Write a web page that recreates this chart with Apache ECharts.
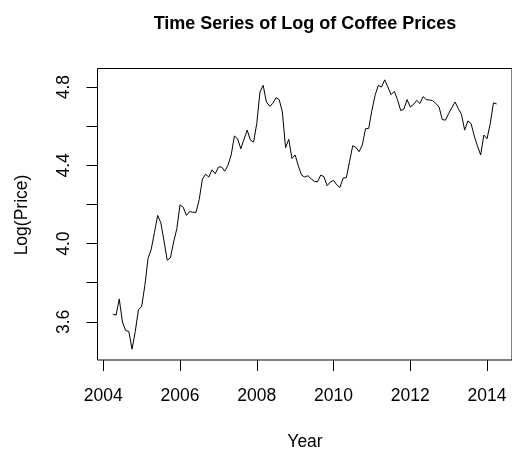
<!DOCTYPE html>
<html>
<head>
<meta charset="utf-8">
<script src="https://cdn.jsdelivr.net/npm/echarts@6/dist/echarts.min.js"></script>
<style>
  html, body { margin: 0; padding: 0; background: #fff; }
  #chart { width: 512px; height: 450px; }
</style>
</head>
<body>
<div id="chart"></div>
<script>
// Monthly log coffee prices, April 2004 to April 2014
const startYear = 2004.25;
const logPrice = [
  3.640, 3.634, 3.717, 3.599, 3.556, 3.551, 3.460, 3.550, 3.663, 3.677,
  3.785, 3.924, 3.971, 4.056, 4.144, 4.107, 4.013, 3.915, 3.927, 4.008,
  4.076, 4.198, 4.186, 4.144, 4.164, 4.160, 4.160, 4.225, 4.330, 4.355,
  4.340, 4.377, 4.357, 4.391, 4.392, 4.370, 4.401, 4.453, 4.550, 4.536,
  4.485, 4.533, 4.580, 4.529, 4.519, 4.614, 4.775, 4.809, 4.724, 4.702,
  4.716, 4.746, 4.736, 4.673, 4.490, 4.533, 4.435, 4.453, 4.397, 4.350,
  4.340, 4.347, 4.331, 4.318, 4.316, 4.350, 4.342, 4.296, 4.315, 4.323,
  4.301, 4.287, 4.335, 4.337, 4.419, 4.500, 4.492, 4.470, 4.504, 4.587,
  4.589, 4.682, 4.758, 4.809, 4.800, 4.837, 4.800, 4.761, 4.778, 4.736,
  4.680, 4.688, 4.736, 4.698, 4.711, 4.732, 4.716, 4.751, 4.736, 4.734,
  4.731, 4.716, 4.698, 4.634, 4.631, 4.665, 4.695, 4.724, 4.690, 4.661,
  4.580, 4.627, 4.614, 4.550, 4.499, 4.453, 4.555, 4.536, 4.614, 4.719,
  4.714
];
const yearTicks = [2004, 2006, 2008, 2010, 2012, 2014];
const priceTicks = [3.6, 3.8, 4.0, 4.2, 4.4, 4.6, 4.8];
const priceLabels = [3.6, 4.0, 4.4, 4.8];

const seriesData = logPrice.map((v, i) => [startYear + i / 12, v]);

const FONT = '"Liberation Sans", Arial, Helvetica, sans-serif';
const chart = echarts.init(document.getElementById('chart'), null, { renderer: 'canvas' });

chart.setOption({
  animation: false,
  backgroundColor: '#ffffff',
  grid: {
    left: 97.5, top: 68.5, width: 415, height: 291.5,
    show: true, borderColor: '#000', borderWidth: 1,
    containLabel: false
  },
  xAxis: {
    type: 'value',
    min: 2003.85, max: 2014.65,
    splitLine: { show: false },
    axisLine: { show: false },
    axisTick: { show: true, customValues: yearTicks, length: 11, lineStyle: { color: '#000', width: 1 } },
    axisLabel: {
      customValues: yearTicks, margin: 27,
      color: '#000', fontSize: 17.5, fontFamily: FONT,
      formatter: v => String(Math.round(v))
    }
  },
  yAxis: {
    type: 'value',
    min: 3.405, max: 4.895,
    splitLine: { show: false },
    axisLine: { show: false },
    axisTick: { show: true, customValues: priceTicks, length: 11, lineStyle: { color: '#000', width: 1 } },
    axisLabel: {
      customValues: priceLabels, margin: 24, rotate: 90,
      color: '#000', fontSize: 17.5, fontFamily: FONT,
      formatter: v => Number(v).toFixed(1)
    }
  },
  series: [{
    type: 'line',
    data: seriesData,
    symbol: 'none',
    lineStyle: { color: '#000', width: 1 },
    clip: true
  }],
  graphic: [
    {
      type: 'text', x: 305, y: 24,
      style: { text: 'Time Series of Log of Coffee Prices', font: 'bold 18px ' + FONT,
               fill: '#000', align: 'center', verticalAlign: 'middle' }
    },
    {
      type: 'text', x: 305, y: 442,
      style: { text: 'Year', font: '17.5px ' + FONT, fill: '#000',
               align: 'center', verticalAlign: 'middle' }
    },
    {
      type: 'text', x: 22, y: 215, rotation: Math.PI / 2,
      style: { text: 'Log(Price)', font: '17.5px ' + FONT, fill: '#000',
               align: 'center', verticalAlign: 'middle' }
    }
  ]
});
</script>
</body>
</html>
